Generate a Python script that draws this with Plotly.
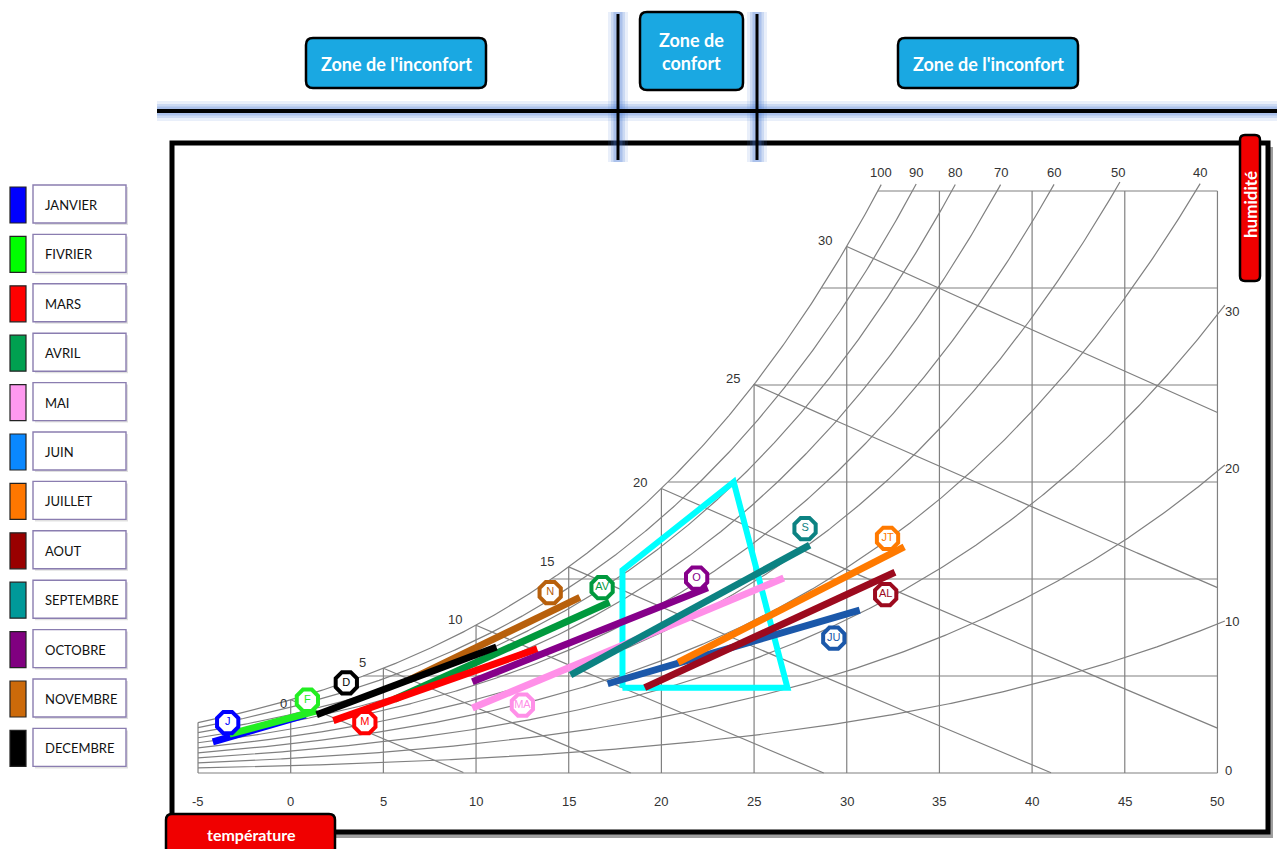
import numpy as np
import plotly.graph_objects as go

W, H = 1277, 849
# pixel calibration of the psychrometric chart inside the page
X0PX, XSCALE = 290.7, 18.535   # px at T=0 °C, px per °C
Y0PX, YSCALE = 773.0, 19.4     # px at w=0 g/kg, px per g/kg

# ---------------- data ----------------
months = ["JANVIER", "FIVRIER", "MARS", "AVRIL", "MAI", "JUIN", "JUILLET",
          "AOUT", "SEPTEMBRE", "OCTOBRE", "NOVEMBRE", "DECEMBRE"]
month_tags = ["J", "F", "M", "AV", "MA", "JU", "JT", "AL", "S", "O", "N", "D"]
t_start = [-4.2, -3.3, 2.3, 5.6, 9.8, 17.1, 20.9, 19.1, 15.1, 9.8, 6.4, 1.4]
t_end = [0.8, 1.4, 13.3, 17.2, 26.6, 30.7, 33.1, 32.6, 28.0, 22.5, 15.6, 11.1]
w_start = [1.6, 2.0, 2.7, 3.8, 3.35, 4.6, 5.7, 4.4, 5.05, 4.7, 4.8, 3.0]
w_end = [3.0, 3.2, 6.4, 8.8, 10.05, 8.4, 11.65, 10.35, 11.75, 9.55, 9.05, 6.5]
tag_t = [-3.4, 0.9, 4.0, 16.8, 12.5, 29.3, 32.2, 32.1, 27.75, 21.9, 14.0, 3.0]
tag_w = [2.6, 3.75, 2.6, 9.55, 3.5, 6.95, 12.1, 9.2, 12.6, 10.05, 9.3, 4.65]
line_colors = ["#0000ff", "#22ee22", "#ff0000", "#00993d", "#ff8fe8", "#1b58aa",
               "#ff7a00", "#9c0a1e", "#0c8282", "#86008a", "#b8600c", "#000000"]
legend_colors = ["#0000ff", "#00ff00", "#ff0000", "#00a050", "#ff99f0", "#0a88ff",
                 "#ff7700", "#990000", "#009999", "#800080", "#cc6a0a", "#000000"]
draw_order = [0, 1, 3, 10, 2, 11, 9, 4, 8, 5, 7, 6]

comfort_t = [17.9, 17.9, 23.9, 26.8, 17.9]
comfort_w = [4.4, 10.45, 15.0, 4.4, 4.4]

temp_ticks = [-5, 0, 5, 10, 15, 20, 25, 30, 35, 40, 45, 50]
w_grid = [0, 5, 10, 15, 20, 25, 30]
rh_levels = [10, 20, 30, 40, 50, 60, 70, 80, 90, 100]
rh_top_labels = [40, 50, 60, 70, 80, 90, 100]
rh_right_labels = [10, 20, 30]
wb_levels = [0, 5, 10, 15, 20, 25, 30]

# ---------------- psychrometrics ----------------
P = 101.325
def psat(T):
    return 0.61094 * np.exp(17.625 * T / (T + 243.04))
def w_of(T, phi):
    pv = phi * psat(T)
    return 622.0 * pv / (P - pv)
def t_of_w(w, phi=1.0):
    pv = w * P / (622.0 + w) / phi
    L = np.log(pv / 0.61094)
    return 243.04 * L / (17.625 - L)

W_TOP = 30.0
GRID = "#808080"

fig = go.Figure()

def add_lines(segs, color, width):
    xs, ys = [], []
    for sx, sy in segs:
        xs += list(sx) + [None]
        ys += list(sy) + [None]
    fig.add_trace(go.Scatter(x=xs, y=ys, mode="lines", line=dict(color=color, width=width),
                             hoverinfo="skip", showlegend=False))

segs = []
# vertical (dry bulb) lines
for T in temp_ticks:
    segs.append(([T, T], [0, min(w_of(T, 1.0), W_TOP)]))
# horizontal (humidity ratio) lines
for w in w_grid:
    t0 = -5 if w == 0 else max(t_of_w(w), -5)
    segs.append(([t0, 50], [w, w]))
# relative humidity curves
for rh in rh_levels:
    phi = rh / 100
    T = np.linspace(-5, 50.4, 500)
    w = w_of(T, phi)
    m = w <= W_TOP + 0.5
    segs.append((T[m], w[m]))
# wet bulb lines
for tw in wb_levels:
    wsw = w_of(tw, 1.0) / 1000
    T = np.linspace(tw, 50, 500)
    w = ((2501 - 2.326 * tw) * wsw - 1.006 * (T - tw)) / (2501 + 1.86 * T - 4.186 * tw) * 1000
    m = w >= 0
    segs.append((T[m], w[m]))
add_lines(segs, GRID, 1.2)

# comfort zone
fig.add_trace(go.Scatter(x=comfort_t, y=comfort_w, mode="lines",
                         line=dict(color="#00ffff", width=6), hoverinfo="skip"))

# month lines
for i in draw_order:
    fig.add_trace(go.Scatter(x=[t_start[i], t_end[i]], y=[w_start[i], w_end[i]], mode="lines",
                             line=dict(color=line_colors[i], width=7), hoverinfo="skip"))
# month tags
for i in draw_order:
    fig.add_trace(go.Scatter(x=[tag_t[i]], y=[tag_w[i]], mode="markers+text", text=[month_tags[i]],
                             textposition="middle center",
                             textfont=dict(color=line_colors[i], size=11, family="Liberation Sans"),
                             marker=dict(symbol="octagon", size=23, color="white",
                                         line=dict(color=line_colors[i], width=4)),
                             hoverinfo="skip"))

annotations = []
LBL = dict(family="Liberation Sans, Arial", size=13, color="#333333")
# temperature tick labels
for T in temp_ticks:
    annotations.append(dict(x=T, y=-1.45, xref="x", yref="y", text=str(T), showarrow=False,
                            font=LBL, xanchor="center", yanchor="middle"))
# wet bulb labels
for tw in wb_levels:
    dx = -0.4 if tw == 0 else -1.15
    dy = -0.2 if tw == 0 else 0.3
    annotations.append(dict(x=tw + dx, y=w_of(tw, 1.0) + dy, xref="x", yref="y", text=str(tw),
                            showarrow=False, font=LBL, xanchor="center", yanchor="middle"))
# RH top labels
for rh in rh_top_labels:
    annotations.append(dict(x=t_of_w(W_TOP + 0.5, rh / 100) - 0.1, y=W_TOP + 0.45, xref="x", yref="y",
                            text=str(rh), showarrow=False, font=LBL, xanchor="center", yanchor="bottom"))
# RH right labels
for rh in rh_right_labels + [0]:
    annotations.append(dict(x=50.3, y=w_of(50.0, rh / 100) + 0.15, xref="x", yref="y", text=str(rh),
                            showarrow=False, font=LBL, xanchor="left", yanchor="middle"))

# ---------------- decorations (pixel -> paper) ----------------
def px(x):
    return x / W
def py(y):
    return 1 - y / H

shapes = []
def rect(x0, y0, x1, y1, fill, line_color=None, lw=0, layer="below"):
    shapes.append(dict(type="rect", xref="paper", yref="paper", x0=px(x0), x1=px(x1),
                       y0=py(y1), y1=py(y0), fillcolor=fill,
                       line=dict(color=line_color or fill, width=lw), layer=layer))

def rrect(x0, y0, x1, y1, r, fill, line_color="black", lw=2.5, layer="above"):
    pts = [("M", x0 + r, y0), ("L", x1 - r, y0), ("Q", x1, y0, x1, y0 + r), ("L", x1, y1 - r),
           ("Q", x1, y1, x1 - r, y1), ("L", x0 + r, y1), ("Q", x0, y1, x0, y1 - r),
           ("L", x0, y0 + r), ("Q", x0, y0, x0 + r, y0)]
    s = ""
    for p in pts:
        if p[0] == "Q":
            s += f"Q{px(p[1]):.5f},{py(p[2]):.5f} {px(p[3]):.5f},{py(p[4]):.5f} "
        else:
            s += f"{p[0]}{px(p[1]):.5f},{py(p[2]):.5f} "
    s += "Z"
    shapes.append(dict(type="path", xref="paper", yref="paper", path=s, fillcolor=fill,
                       line=dict(color=line_color, width=lw), layer=layer))

def seg(x0, y0, x1, y1, color, width, layer="above"):
    shapes.append(dict(type="line", xref="paper", yref="paper", x0=px(x0), y0=py(y0),
                       x1=px(x1), y1=py(y1), line=dict(color=color, width=width), layer=layer))

# chart frame with shadow
rect(176, 147, 1273, 838, "rgba(0,0,0,0.38)")
rect(172, 143, 1268, 832, "white", "black", 5)

# zone separators with soft blue glow
for gw, ga in [(20, 0.12), (14, 0.18), (9, 0.25)]:
    gc = f"rgba(70,120,210,{ga})"
    seg(157, 111, 1277, 111, gc, gw)
    seg(618, 12, 618, 162, gc, gw)
    seg(757, 12, 757, 162, gc, gw)
seg(157, 111, 1277, 111, "black", 4)
seg(618, 14, 618, 160, "black", 3)
seg(757, 14, 757, 160, "black", 3)

ZONE = "#1aa8e2"
ZF = dict(family="Comic Sans MS, Lato, sans-serif", size=18, color="white")
rrect(306, 38, 486, 88, 7, ZONE)
rrect(898, 38, 1078, 88, 7, ZONE)
rrect(640, 12, 743, 90, 7, ZONE)
annotations.append(dict(x=px(396), y=py(64), xref="paper", yref="paper", text="<b>Zone de l'inconfort</b>",
                        showarrow=False, font=ZF, xanchor="center", yanchor="middle"))
annotations.append(dict(x=px(988), y=py(64), xref="paper", yref="paper", text="<b>Zone de l'inconfort</b>",
                        showarrow=False, font=ZF, xanchor="center", yanchor="middle"))
annotations.append(dict(x=px(691), y=py(52), xref="paper", yref="paper", text="<b>Zone de<br>confort</b>",
                        showarrow=False, font=ZF, xanchor="center", yanchor="middle"))

# legend on the left
LEG_TOP, LEG_STEP, LEG_H = 185, 49.4, 38
for i, name in enumerate(months):
    y0 = LEG_TOP + i * LEG_STEP
    rect(10, y0 + 2, 26, y0 + LEG_H, legend_colors[i], "#222222", 1.2, layer="above")
    rect(35, y0 + 2, 128, y0 + LEG_H + 2, "rgba(0,0,0,0.12)", layer="above")
    rect(33, y0, 126, y0 + LEG_H, "white", "#8a7db0", 1.4, layer="above")
    annotations.append(dict(x=px(43), y=py(y0 + LEG_H / 2 + 1), xref="paper", yref="paper", text=name,
                            showarrow=False, xanchor="left", yanchor="middle",
                            font=dict(family="Comic Sans MS, Lato, sans-serif", size=13, color="#111111")))

# red labels
RED = "#f00000"
rrect(166, 814, 335, 862, 6, RED, "black", 2.5)
annotations.append(dict(x=px(251), y=py(834), xref="paper", yref="paper", text="<b>température</b>",
                        showarrow=False, xanchor="center", yanchor="middle",
                        font=dict(family="Comic Sans MS, Lato, sans-serif", size=16, color="white")))
rrect(1240, 135, 1260, 281, 5, RED, "black", 2.5)
annotations.append(dict(x=px(1251), y=py(205), xref="paper", yref="paper", text="<b>humidité</b>",
                        showarrow=False, xanchor="center", yanchor="middle", textangle=-90,
                        font=dict(family="Lato, sans-serif", size=17, color="white")))

fig.update_layout(
    width=W, height=H,
    margin=dict(l=0, r=0, t=0, b=0, pad=0, autoexpand=False),
    xaxis=dict(range=[(0 - X0PX) / XSCALE, (W - X0PX) / XSCALE], visible=False, fixedrange=True),
    yaxis=dict(range=[(Y0PX - H) / YSCALE, Y0PX / YSCALE], visible=False, fixedrange=True),
    plot_bgcolor="white", paper_bgcolor="white", showlegend=False,
    shapes=shapes, annotations=annotations,
)

fig.write_html("out.html", config={"displayModeBar": False},
               post_script="document.body.style.margin='0';")
